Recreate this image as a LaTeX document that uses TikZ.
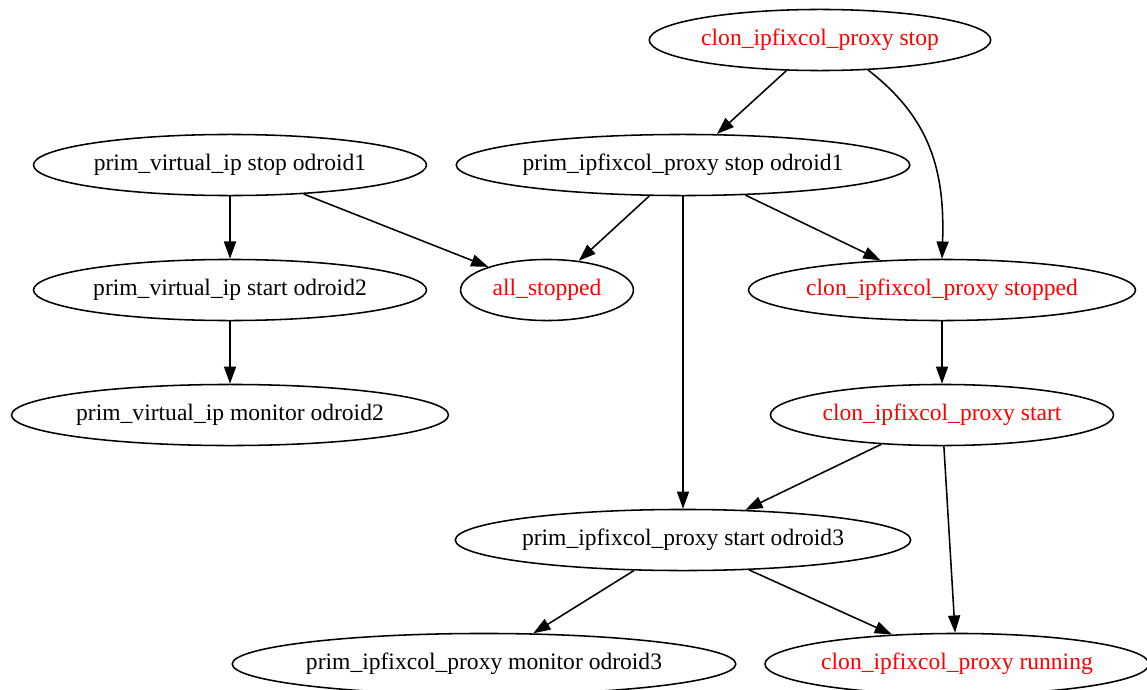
\documentclass[tikz,border=0pt]{standalone}
\usepackage{fontspec}
\setmainfont{Liberation Serif}
\usetikzlibrary{shapes.geometric,arrows.meta}
\begin{document}
\begin{tikzpicture}[x=0.5814pt,y=-0.5814pt,
  st/.style={ellipse,draw,line width=0.9pt,inner sep=0pt,minimum height=35.5pt,font=\fontsize{13.7}{16}\selectfont},
  rd/.style={st,text=red},
  edge/.style={line width=0.9pt,-{Triangle[length=10pt,width=7pt]}}]
\useasboundingbox (0,0) rectangle (1147,690);
\clip (0,0) rectangle (1147,690);
\node[rd,minimum width=198.5pt] (stop) at (820,40) {clon\_ipfixcol\_proxy stop};
\node[st,minimum width=228.5pt] (pvistop) at (230,165) {prim\_virtual\_ip stop odroid1};
\node[st,minimum width=262pt] (pipstop) at (683,165) {prim\_ipfixcol\_proxy stop odroid1};
\node[st,minimum width=228.5pt] (pvistart) at (230,290) {prim\_virtual\_ip start odroid2};
\node[rd,minimum width=100.5pt] (all) at (547,290) {all\_stopped};
\node[rd,minimum width=225pt] (stopped) at (942,290) {clon\_ipfixcol\_proxy stopped};
\node[st,minimum width=254pt] (pvimon) at (230,415) {prim\_virtual\_ip monitor odroid2};
\node[rd,minimum width=199.5pt] (start) at (942,415) {clon\_ipfixcol\_proxy start};
\node[st,minimum width=264pt] (pipstart) at (683,540) {prim\_ipfixcol\_proxy start odroid3};
\node[st,minimum width=291pt] (pipmon) at (484,664) {prim\_ipfixcol\_proxy monitor odroid3};
\node[rd,minimum width=220pt] (running) at (957,664) {clon\_ipfixcol\_proxy running};
\draw[edge] (stop) -- (pipstop);
\draw[edge] (stop.-32) .. controls (930,118) and (945,170) .. (stopped.north);
\draw[edge] (pvistop) -- (pvistart);
\draw[edge] (pvistop) -- (all);
\draw[edge] (pipstop) -- (all);
\draw[edge] (pipstop) -- (stopped);
\draw[edge] (pipstop) -- (pipstart);
\draw[edge] (pvistart) -- (pvimon);
\draw[edge] (stopped) -- (start);
\draw[edge] (start) -- (pipstart);
\draw[edge] (start) -- (running);
\draw[edge] (pipstart) -- (pipmon);
\draw[edge] (pipstart) -- (running);
\end{tikzpicture}
\end{document}
